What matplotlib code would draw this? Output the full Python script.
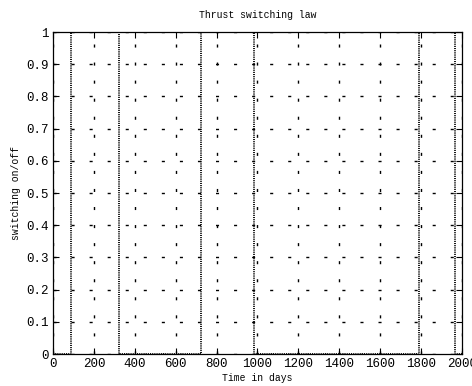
import numpy as np
import matplotlib.pyplot as plt

# switching times (days) and thrust state after each switch
t_switch = [0, 86, 321, 723, 983, 1788, 1968, 2000]
state = [0, 1, 0, 1, 0, 1, 0, 0]

x_ticks = [0, 200, 400, 600, 800, 1000, 1200, 1400, 1600, 1800, 2000]
y_ticks = [0, 0.1, 0.2, 0.3, 0.4, 0.5, 0.6, 0.7, 0.8, 0.9, 1]
y_labels = ["0", "0.1", "0.2", "0.3", "0.4", "0.5", "0.6", "0.7", "0.8", "0.9", "1"]

plt.rcParams['font.family'] = ['Liberation Mono', 'DejaVu Sans Mono']

fig = plt.figure(figsize=(4.72, 3.86), dpi=100)
ax = fig.add_axes([0.1123, 0.0829, 0.8665, 0.834])

ax.step(t_switch, state, where='post', color='black',
        linestyle=(0, (0.6, 0.6)), linewidth=1.3)

ax.set_xlim(0, 2000)
ax.set_ylim(0, 1)
ax.set_xticks(x_ticks)
ax.set_yticks(y_ticks)
ax.set_yticklabels(y_labels)
ax.tick_params(direction='in', length=4, width=0.8, top=True, right=True,
               labelsize=9, pad=3)
ax.grid(True, color='black', linestyle=(0, (2.2, 10.8)), linewidth=1.0)
for s in ax.spines.values():
    s.set_linewidth(0.9)

ax.set_title("Thrust switching law", fontsize=7, pad=10)
ax.set_xlabel("Time in days", fontsize=7, labelpad=2)
ax.set_ylabel("switching on/off", fontsize=7, labelpad=4)

fig.savefig("out.png", dpi=100)
